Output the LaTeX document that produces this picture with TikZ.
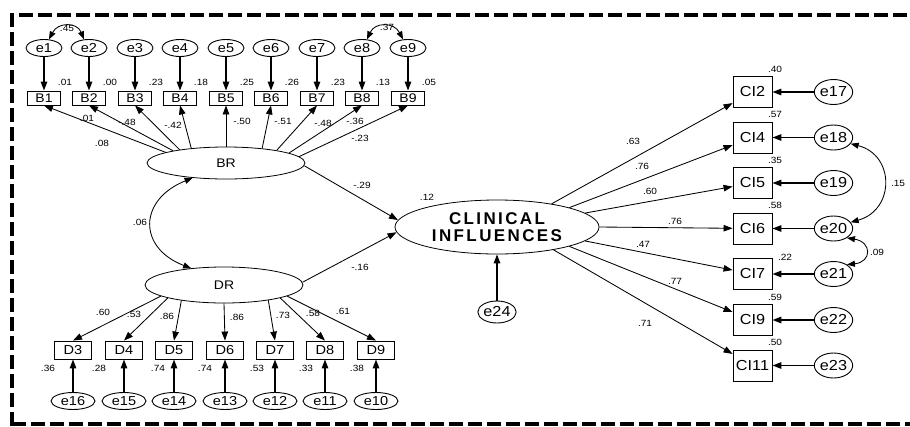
\documentclass[tikz,border=0pt]{standalone}
\usepackage{fontspec}
\setmainfont{Liberation Sans}[FakeStretch=1.12]
\newfontfamily\cifont{Liberation Sans}[LetterSpace=14]
\usetikzlibrary{arrows.meta,shapes.geometric}
\begin{document}
\begin{tikzpicture}[x=1pt,y=1pt,
  tip/.style={-{Triangle[length=9pt,width=6.5pt]}},
  dtip/.style={{Triangle[length=8pt,width=6pt]}-{Triangle[length=8pt,width=6pt]}},
  eline/.style={tip,line width=1.4pt},
  pline/.style={tip,line width=0.85pt},
  etop/.style={ellipse,draw,line width=0.9pt,minimum width=36pt,minimum height=17pt,inner sep=0pt,font=\fontsize{13}{14}\selectfont},
  ebot/.style={ellipse,draw,line width=0.9pt,minimum width=44pt,minimum height=17pt,inner sep=0pt,font=\fontsize{13}{14}\selectfont},
  eright/.style={ellipse,draw,line width=0.9pt,minimum width=37pt,minimum height=25pt,inner sep=0pt,font=\fontsize{14.5}{15}\selectfont},
  bbox/.style={rectangle,draw,line width=0.9pt,minimum width=33pt,minimum height=14pt,inner sep=0pt,font=\fontsize{12.5}{13}\selectfont},
  dbox/.style={rectangle,draw,line width=0.9pt,minimum width=37pt,minimum height=18pt,inner sep=0pt,font=\fontsize{13}{14}\selectfont},
  cbox/.style={rectangle,draw,line width=0.9pt,minimum width=39pt,minimum height=31pt,inner sep=0pt,font=\fontsize{14.5}{15}\selectfont},
  latent/.style={ellipse,draw,line width=0.8pt,inner sep=0pt,font=\fontsize{12.5}{13}\selectfont},
  lab/.style={inner sep=0pt,font=\fontsize{9}{10}\selectfont}
]
\useasboundingbox (0,0) rectangle (910,-426);
% border
\draw[line width=4pt,dash pattern=on 14pt off 5pt] (12,-426) -- (12,-15) -- (910,-15);
\draw[line width=4pt,dash pattern=on 14pt off 5pt] (12,-424) -- (910,-424);

% latent variables
\node[latent,minimum width=158pt,minimum height=32pt] (BR) at (226,-163) {BR};
\node[latent,minimum width=158pt,minimum height=36pt] (DR) at (224,-285) {DR};
\node[latent,minimum width=204pt,minimum height=54pt,align=center,
      font=\fontsize{17}{17.5}\selectfont\cifont\bfseries] (CI) at (497,-227) {CLINICAL\\INFLUENCES};
\node[lab] (rCI) at (427,-197) {.12};

% B indicators
\foreach \i/\x/\r/\a in {1/44/.01/170,2/89/.00/167,3/135/.23/164,4/180/.18/157,5/226/.25/90,6/271/.26/22,7/317/.23/14,8/362/.13/9.5,9/408/.05/5}{
  \node[bbox] (B\i) at (\x,-98) {B\i};
  \node[etop] (e\i) at (\x,-48) {e\i};
  \node[lab] (rB\i) at (\x+21,-82) {\r};
  \draw[eline] (e\i) -- (B\i);
  \draw[pline] (BR.\a) -- (B\i.south);
}
\foreach \n/\x/\y/\t in {1/102/143/.08,2/87/118/.01,3/127/122/-.48,4/173/125/-.42,5/242/121/-.50,6/283/121/-.51,7/323/123/-.48,8/355/121/-.36,9/360/138/-.23}{
  \node[lab] (lB\n) at (\x,-\y) {\t};
}

% D indicators
\foreach \i/\x/\e/\a in {3/73/16/190,4/124/15/193,5/174/14/200,6/225/13/270,7/275/12/341,8/325/11/347,9/376/10/350}{
  \node[dbox] (D\i) at (\x,-350) {D\i};
  \node[ebot] (e\e) at (\x,-401) {e\e};
  \draw[eline] (e\e) -- (D\i);
  \draw[pline] (DR.\a) -- (D\i.north);
}
\foreach \n/\x/\t in {3/48/.36,4/99/.28,5/158/.74,6/205/.74,7/257/.53,8/306/.33,9/357/.38}{
  \node[lab] (rD\n) at (\x,-368) {\t};
}
\foreach \n/\x/\y/\t in {3/103/312/.60,4/134/314/.53,5/167/316/.86,6/237/317/.86,7/283/315/.73,8/313/313/.58,9/343/311/.61}{
  \node[lab] (lD\n) at (\x,-\y) {\t};
}

% CI indicators
\foreach \c/\e/\y/\a in {2/17/92/23,4/18/137.5/15,5/19/183/9,6/20/228.5/0,7/21/274/-9,9/22/320/-15,11/23/365.5/-22}{
  \node[cbox] (CI\c) at (752.5,-\y) {CI\c};
  \node[eright] (e\e) at (833.5,-\y) {e\e};
  \draw[eline] (e\e) -- (CI\c);
  \draw[pline] (CI.\a) -- (CI\c);
}
\foreach \n/\x/\y/\t in {2/775/69/.40,4/775/114.5/.57,5/775/160/.35,6/775/205.5/.58,7/785/257/.22,9/775/297/.59,11/775/342.5/.50}{
  \node[lab] (rCI\n) at (\x,-\y) {\t};
}
\foreach \n/\x/\y/\t in {2/633/141/.63,4/642/166/.76,5/650/191/.60,6/675/221/.76,7/643/244/.47,9/675/281/.77,11/645/323/.71}{
  \node[lab] (lCI\n) at (\x,-\y) {\t};
}

% structural paths
\draw[pline] (BR.-2) -- (CI.176);
\draw[pline] (DR.2) -- (CI.183);
\node[lab] (pBR) at (362,-185) {-.29};
\node[lab] (pDR) at (360,-267) {-.16};
\node[eright,minimum width=32pt,minimum height=22pt] (e24) at (497,-312) {e24};
\draw[eline] (e24) -- (CI);

% covariances
\draw[dtip,line width=0.85pt] (BR.204) .. controls (138,-200) and (138,-248) .. (DR.153);
\node[lab] (cBD) at (140,-222) {.06};
\draw[dtip,line width=0.85pt] (e1.60) .. controls (58,-22) and (77,-22) .. (e2.120);
\node[lab] (c12) at (67,-28) {.45};
\draw[dtip,line width=0.85pt] (e8.60) .. controls (375,-22) and (394,-22) .. (e9.120);
\node[lab] (c89) at (387,-27) {.37};
\draw[dtip,line width=0.85pt] (e18.-20) .. controls (895,-155) and (895,-210) .. (e20.20);
\node[lab] (c1820) at (898,-183) {.15};
\draw[dtip,line width=0.85pt] (e20.-35) .. controls (872,-242) and (872,-262) .. (e21.35);
\node[lab] (c2021) at (877,-252) {.09};
\end{tikzpicture}
\end{document}
